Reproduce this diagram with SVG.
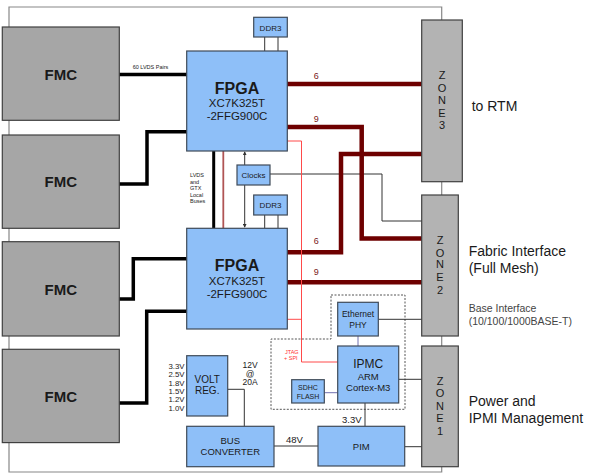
<svg xmlns="http://www.w3.org/2000/svg" width="591" height="474" viewBox="0 0 591 474">
<defs>
<style>
.fmc{fill:#a6a6a6;stroke:#404040;stroke-width:1.2}
.blue{fill:#8ebff8;stroke:#3f4a58;stroke-width:1.2}
.zone{fill:#b3b3b3;stroke:#404040;stroke-width:1.2}
.t{font-family:"Liberation Sans",Arial,sans-serif;fill:#1a1a1a}
.b{font-weight:bold}
.thk{fill:none;stroke:#000;stroke-width:3.5}
.mar{fill:none;stroke:#6e0000;stroke-width:4.5}
.thin{fill:none;stroke:#333;stroke-width:1}
.gray{fill:none;stroke:#888;stroke-width:1.2}
.red{fill:none;stroke:#ff4a4a;stroke-width:1}
.pur{fill:none;stroke:#7070b0;stroke-width:1}
.lab{font-family:"Liberation Sans",Arial,sans-serif;fill:#7a2020;font-size:9px}
</style>
<marker id="ar" viewBox="0 0 6 6" refX="5" refY="3" markerWidth="4" markerHeight="4" orient="auto-start-reverse"><path d="M0,0 L6,3 L0,6 z" fill="#333"/></marker>
</defs>

<g id="connectors">
<polyline class="gray" points="441.7,20 441.7,7 9,7 9,472 441.7,472 441.7,467"/>
<line class="gray" x1="441.7" y1="182" x2="441.7" y2="195"/>
<line class="gray" x1="441.7" y1="336" x2="441.7" y2="346"/>
<line class="thk" x1="119" y1="74.5" x2="187" y2="74.5"/>
<polyline class="thk" points="119,184 147,184 147,131.7 187,131.7"/>
<polyline class="thk" points="119,299 133.3,299 133.3,258.7 187,258.7"/>
<polyline class="thk" points="119,403 146.7,403 146.7,311.3 187,311.3"/>
<line x1="213.7" y1="151" x2="213.7" y2="228" stroke="#000" stroke-width="3"/>
<line x1="223.3" y1="151" x2="223.3" y2="228" stroke="#b05555" stroke-width="1.8"/>
<line class="thin" x1="244.7" y1="152" x2="244.7" y2="165" marker-start="url(#ar)"/>
<line class="thin" x1="244.7" y1="185" x2="244.7" y2="227" marker-end="url(#ar)"/>
<line class="thin" x1="264.7" y1="37" x2="264.7" y2="51" stroke-width="1.3"/>
<line class="thin" x1="278" y1="37" x2="278" y2="51" stroke-width="1.3"/>
<line class="thin" x1="264.7" y1="215" x2="264.7" y2="228" stroke-width="1.3"/>
<line class="thin" x1="278" y1="215" x2="278" y2="228" stroke-width="1.3"/>
<polyline class="thin" points="270,174 382,174 382,221 422,221"/>
<line class="mar" x1="287" y1="84" x2="422" y2="84"/>
<polyline class="mar" points="287,127 361.7,127 361.7,238.5 422,238.5"/>
<polyline class="mar" points="287,252.3 341,252.3 341,154 422,154"/>
<line class="mar" x1="287" y1="282.3" x2="422" y2="282.3"/>
<polyline class="red" points="287,141 301.5,141 301.5,362 338,362"/>
<line class="red" x1="287" y1="319.3" x2="301.5" y2="319.3"/>
<polygon points="331,295 405,295 405,409.3 271,409.3 271,339 331,339" fill="none" stroke="#555" stroke-width="1" stroke-dasharray="2,1.5"/>
<line class="thin" x1="378.3" y1="319.3" x2="422" y2="319.3"/>
<line class="pur" x1="358" y1="336" x2="358" y2="346"/>
<line class="thin" x1="398.7" y1="379.3" x2="422" y2="379.3"/>
<line class="pur" x1="324.3" y1="392.7" x2="337.7" y2="392.7"/>
<line class="thin" x1="365" y1="403" x2="365" y2="426.3" stroke="#555" stroke-width="1.3"/>
<line class="thin" x1="404.7" y1="446.7" x2="422" y2="446.7"/>
<line class="thin" x1="274" y1="446" x2="318" y2="446"/>
<polyline class="thin" points="227.7,389.3 244.3,389.3 244.3,426.3"/>
<text class="t" x="150.5" y="68.5" font-size="5.5" text-anchor="middle" fill="#333">60 LVDS Pairs</text>
<g class="t" font-size="5.5" fill="#6a4a2a">
<text x="190" y="177">LVDS</text><text x="190" y="183.5">and</text><text x="190" y="190">GTX</text><text x="190" y="196.5">Local</text><text x="190" y="203">Buses</text>
</g>
<g class="t" font-size="5.5" fill="#ff3030" style="fill:#ff3030">
<text x="285" y="353.5">JTAG</text><text x="284" y="359.5">+ SPI</text>
</g>
<text class="lab" x="313.7" y="79">6</text>
<text class="lab" x="313.7" y="122">9</text>
<text class="lab" x="313.7" y="244">6</text>
<text class="lab" x="313.7" y="275">9</text>
<text class="t" x="342" y="423" font-size="9.5">3.3V</text>
<text class="t" x="286" y="443" font-size="9.5">48V</text>
<g class="t" font-size="8.5" text-anchor="middle">
<text x="250" y="368">12V</text><text x="250" y="376.5">@</text><text x="250" y="385">20A</text>
</g>
<g class="t" font-size="7.8" text-anchor="end">
<text x="184.5" y="369">3.3V</text><text x="184.5" y="377.3">2.5V</text><text x="184.5" y="385.6">1.8V</text><text x="184.5" y="393.9">1.5V</text><text x="184.5" y="402.2">1.2V</text><text x="184.5" y="410.5">1.0V</text>
</g>
</g>

<g id="fmc1"><rect class="fmc" x="2.3" y="27" width="117" height="93.3"/><text class="t b" x="60.8" y="79.5" font-size="15" text-anchor="middle">FMC</text></g>
<g id="fmc2"><rect class="fmc" x="2.3" y="135" width="117" height="93.3"/><text class="t b" x="60.8" y="187" font-size="15" text-anchor="middle">FMC</text></g>
<g id="fmc3"><rect class="fmc" x="2.3" y="241.7" width="117" height="94.3"/><text class="t b" x="60.8" y="295" font-size="15" text-anchor="middle">FMC</text></g>
<g id="fmc4"><rect class="fmc" x="2.3" y="349.3" width="117" height="93.3"/><text class="t b" x="60.8" y="401.5" font-size="15" text-anchor="middle">FMC</text></g>

<g id="fpga1"><rect class="blue" x="186.7" y="51" width="100.6" height="100"/>
<text class="t b" x="237" y="94" font-size="16" text-anchor="middle">FPGA</text>
<text class="t" x="237" y="107" font-size="11.5" text-anchor="middle">XC7K325T</text>
<text class="t" x="237" y="120" font-size="11.5" text-anchor="middle">-2FFG900C</text></g>
<g id="fpga2"><rect class="blue" x="186.7" y="228.3" width="100.6" height="100.7"/>
<text class="t b" x="237" y="271" font-size="16" text-anchor="middle">FPGA</text>
<text class="t" x="237" y="284.5" font-size="11.5" text-anchor="middle">XC7K325T</text>
<text class="t" x="237" y="297.5" font-size="11.5" text-anchor="middle">-2FFG900C</text></g>

<g id="ddr3a"><rect class="blue" x="253.7" y="17.3" width="33.6" height="19.7"/><text class="t" x="270.5" y="30.5" font-size="8" text-anchor="middle">DDR3</text></g>
<g id="ddr3b"><rect class="blue" x="253.7" y="195" width="33.6" height="20"/><text class="t" x="270.5" y="208.3" font-size="8" text-anchor="middle">DDR3</text></g>
<g id="clocks"><rect class="blue" x="237" y="165" width="33" height="20"/><text class="t" x="253.5" y="178" font-size="8" text-anchor="middle">Clocks</text></g>

<g id="ethphy"><rect class="blue" x="337.7" y="302.3" width="40.6" height="33.7"/>
<text class="t" x="358" y="317" font-size="8.5" text-anchor="middle">Ethernet</text><text class="t" x="358" y="327.5" font-size="8.5" text-anchor="middle">PHY</text></g>
<g id="ipmc"><rect class="blue" x="337.7" y="346" width="61" height="57"/>
<text class="t" x="368.2" y="368" font-size="12" text-anchor="middle">IPMC</text>
<text class="t" x="368.2" y="379.5" font-size="9.5" text-anchor="middle">ARM</text>
<text class="t" x="368.2" y="390.5" font-size="9.5" text-anchor="middle">Cortex-M3</text></g>
<g id="sdhc"><rect class="blue" x="291.7" y="379.7" width="32.6" height="23.3"/>
<text class="t" x="308" y="389.5" font-size="7" text-anchor="middle">SDHC</text><text class="t" x="308" y="398.5" font-size="7" text-anchor="middle">FLASH</text></g>
<g id="pim"><rect class="blue" x="318" y="426.3" width="86.7" height="39.7"/><text class="t" x="361.3" y="449.5" font-size="9.5" text-anchor="middle">PIM</text></g>
<g id="busconv"><rect class="blue" x="186.7" y="426.3" width="87.3" height="40.4"/>
<text class="t" x="230.3" y="444" font-size="9.5" text-anchor="middle">BUS</text><text class="t" x="230.3" y="454.5" font-size="9.5" text-anchor="middle">CONVERTER</text></g>
<g id="voltreg"><rect class="blue" x="186.7" y="355.7" width="41" height="60.3"/>
<text class="t" x="207.2" y="383" font-size="10" text-anchor="middle">VOLT</text><text class="t" x="207.2" y="393.5" font-size="10" text-anchor="middle">REG.</text></g>

<g id="zone3"><rect class="zone" x="421.7" y="20" width="40.6" height="161.7"/>
<g class="t" font-size="11" text-anchor="middle" fill="#333"><text x="442" y="79">Z</text><text x="442" y="92">O</text><text x="442" y="104">N</text><text x="442" y="117">E</text><text x="442" y="129">3</text></g></g>
<g id="zone2"><rect class="zone" x="421.7" y="195" width="36.6" height="141"/>
<g class="t" font-size="11" text-anchor="middle" fill="#333"><text x="440" y="244">Z</text><text x="440" y="256.5">O</text><text x="440" y="268">N</text><text x="440" y="280.5">E</text><text x="440" y="294">2</text></g></g>
<g id="zone1"><rect class="zone" x="421.7" y="346" width="36.6" height="120.7"/>
<g class="t" font-size="11" text-anchor="middle" fill="#333"><text x="440" y="384.5">Z</text><text x="440" y="397">O</text><text x="440" y="410">N</text><text x="440" y="422">E</text><text x="440" y="435">1</text></g></g>

<g id="labels" class="t" font-size="14">
<text x="471.7" y="111">to RTM</text>
<text x="468.7" y="256">Fabric Interface</text>
<text x="468.7" y="272.5">(Full Mesh)</text>
<text x="468.7" y="312" font-size="10.5" fill="#444">Base Interface</text>
<text x="468.7" y="324.5" font-size="10.5" fill="#444">(10/100/1000BASE-T)</text>
<text x="468.7" y="406">Power and</text>
<text x="468.7" y="423">IPMI Management</text>
</g>
</svg>
